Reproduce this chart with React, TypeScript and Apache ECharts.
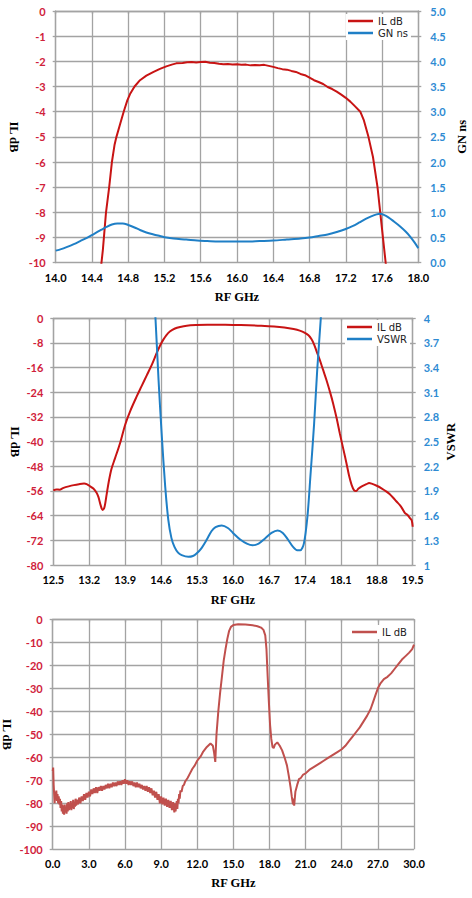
import React, { useEffect, useRef } from "react";
import * as echarts from "echarts";

// ---------- Chart 1: IL dB + group delay ----------
const il1: [number, number][] = [
  [14.49, -10.5], [14.52, -9.5], [14.555, -8], [14.59, -7], [14.62, -6], [14.65, -5.3], [14.67, -5],
  [14.71, -4.5], [14.75, -4], [14.79, -3.55], [14.82, -3.3], [14.87, -3.0], [14.93, -2.75], [15.0, -2.57],
  [15.08, -2.42], [15.15, -2.3], [15.22, -2.2], [15.28, -2.13], [15.33, -2.08], [15.4, -2.07], [15.45, -2.04],
  [15.5, -2.03], [15.55, -2.05], [15.6, -2.03], [15.65, -2.02], [15.7, -2.06], [15.75, -2.07], [15.8, -2.1],
  [15.85, -2.12], [15.9, -2.11], [15.95, -2.13], [16.0, -2.12], [16.05, -2.14], [16.1, -2.13], [16.15, -2.16],
  [16.2, -2.15], [16.25, -2.16], [16.3, -2.14], [16.35, -2.18], [16.4, -2.22], [16.45, -2.27], [16.5, -2.31],
  [16.55, -2.33], [16.6, -2.38], [16.65, -2.42], [16.7, -2.5], [16.75, -2.55], [16.8, -2.65], [16.85, -2.75],
  [16.9, -2.82], [16.95, -2.9], [17.0, -3.02], [17.05, -3.1], [17.1, -3.2], [17.15, -3.32], [17.2, -3.45],
  [17.25, -3.6], [17.3, -3.78], [17.36, -4.0], [17.4, -4.35], [17.45, -5.0], [17.5, -5.8], [17.55, -7.0],
  [17.58, -8.0], [17.61, -9.0], [17.64, -10.0], [17.66, -10.6],
];
const gn1: [number, number][] = [
  [14.0, 0.24], [14.06, 0.27], [14.12, 0.31], [14.2, 0.37], [14.27, 0.43], [14.35, 0.5], [14.42, 0.57],
  [14.5, 0.65], [14.56, 0.71], [14.62, 0.76], [14.68, 0.78], [14.74, 0.78], [14.8, 0.75], [14.87, 0.7],
  [14.93, 0.65], [15.0, 0.6], [15.08, 0.56], [15.15, 0.53], [15.22, 0.5], [15.3, 0.48], [15.44, 0.46],
  [15.56, 0.44], [15.67, 0.43], [15.8, 0.42], [15.96, 0.42], [16.1, 0.42], [16.25, 0.43], [16.4, 0.44],
  [16.55, 0.46], [16.7, 0.48], [16.8, 0.5], [16.9, 0.53], [17.0, 0.56], [17.1, 0.61], [17.2, 0.67],
  [17.28, 0.73], [17.35, 0.8], [17.42, 0.87], [17.48, 0.92], [17.54, 0.96], [17.58, 0.97], [17.62, 0.95],
  [17.67, 0.9], [17.73, 0.82], [17.8, 0.72], [17.86, 0.62], [17.91, 0.52], [17.96, 0.4], [18.0, 0.29],
];

// ---------- Chart 2: IL dB + VSWR ----------
const il2: [number, number][] = [
  [12.5, -55.8], [12.56, -55.5], [12.62, -55.6], [12.7, -55], [12.8, -54.5], [12.9, -54.1], [13.0, -53.8],
  [13.1, -53.6], [13.15, -53.8], [13.22, -54.5], [13.28, -55.2], [13.34, -56.5], [13.38, -58], [13.42, -60.5],
  [13.46, -62.2], [13.5, -61], [13.54, -57], [13.58, -53], [13.63, -49], [13.7, -45.5], [13.8, -40.5],
  [13.9, -34.5], [14.0, -30], [14.12, -25.5], [14.22, -22], [14.32, -18.5], [14.42, -15], [14.51, -11.4],
  [14.58, -8.8], [14.64, -7], [14.7, -5.5], [14.77, -4.3], [14.87, -3.3], [14.97, -2.8], [15.1, -2.4],
  [15.29, -2.2], [15.5, -2.1], [15.7, -2.1], [16.0, -2.15], [16.3, -2.25], [16.55, -2.4], [16.8, -2.65],
  [17.0, -3.0], [17.18, -3.5], [17.3, -4.0], [17.4, -4.7], [17.47, -5.5], [17.53, -6.8], [17.58, -8.5],
  [17.63, -10.8], [17.69, -13.5], [17.75, -16.5], [17.82, -20], [17.9, -24.5], [17.95, -27.6], [18.02, -32.5],
  [18.08, -37.3], [18.15, -42.5], [18.21, -47], [18.26, -51], [18.31, -54], [18.36, -55.8], [18.4, -56],
  [18.44, -55.3], [18.5, -54.6], [18.6, -53.8], [18.65, -53.4], [18.7, -53.6], [18.8, -54.3], [18.9, -55.2],
  [18.99, -56.2], [19.05, -57], [19.12, -58.2], [19.19, -59.5], [19.25, -60.6], [19.3, -61.8], [19.35, -63.2],
  [19.4, -63.8], [19.45, -64.9], [19.48, -65.5], [19.5, -67.6],
];
const vswr2: [number, number][] = [
  [14.44, 4.5], [14.49, 4.0], [14.55, 3.25], [14.61, 2.6], [14.68, 1.95], [14.74, 1.55], [14.8, 1.33],
  [14.86, 1.22], [14.93, 1.15], [15.0, 1.12], [15.13, 1.1], [15.22, 1.11], [15.29, 1.14], [15.38, 1.2],
  [15.49, 1.31], [15.58, 1.41], [15.66, 1.46], [15.78, 1.48], [15.9, 1.45], [16.0, 1.39], [16.14, 1.31],
  [16.27, 1.26], [16.38, 1.24], [16.5, 1.26], [16.62, 1.32], [16.75, 1.39], [16.87, 1.42], [16.97, 1.39],
  [17.07, 1.31], [17.17, 1.22], [17.25, 1.18], [17.31, 1.18], [17.38, 1.26], [17.45, 1.59], [17.51, 2.1],
  [17.58, 2.72], [17.64, 3.37], [17.71, 4.0], [17.76, 4.5],
];

// ---------- Chart 3: wideband IL dB ----------
const il3: [number, number][] = [
  [0.0, -66], [0.04, -64.5], [0.08, -72], [0.12, -76], [0.16, -80], [0.2, -75], [0.25, -78], [0.3, -74.5],
  [0.35, -79], [0.4, -76], [0.45, -80], [0.5, -77], [0.55, -80.5], [0.6, -78], [0.65, -82], [0.7, -79],
  [0.75, -83.5], [0.8, -80.5], [0.85, -84.5], [0.9, -81], [0.95, -85], [1.0, -80.5], [1.05, -84], [1.1, -81.5],
  [1.15, -84.5], [1.2, -80], [1.25, -83.5], [1.3, -79.5], [1.35, -83], [1.4, -80.5], [1.45, -82.5], [1.5, -79],
  [1.55, -83], [1.6, -80], [1.65, -82], [1.7, -78.5], [1.75, -82.5], [1.8, -79.5], [1.85, -81.5], [1.9, -78],
  [1.95, -81], [2.0, -78.5], [2.1, -80.5], [2.2, -77.5], [2.3, -80], [2.4, -77], [2.5, -79], [2.6, -76],
  [2.7, -78.5], [2.8, -75.5], [2.9, -77.5], [3.0, -75], [3.1, -77], [3.2, -74], [3.3, -76], [3.4, -73.5],
  [3.5, -75.5], [3.6, -73], [3.7, -75.5], [3.8, -73], [3.9, -74.5], [4.0, -72.5], [4.1, -74.5], [4.2, -72.5],
  [4.3, -74], [4.4, -72], [4.5, -73.5], [4.6, -71.5], [4.7, -73.5], [4.8, -71.5], [4.9, -73], [5.0, -71],
  [5.1, -72.5], [5.2, -71], [5.3, -72.5], [5.4, -70.5], [5.5, -72], [5.6, -70.5], [5.7, -72], [5.8, -70],
  [5.9, -71.5], [6.0, -69.5], [6.1, -71.5], [6.2, -70], [6.3, -72], [6.4, -70.5], [6.5, -72], [6.6, -70.5],
  [6.7, -72.5], [6.8, -71], [6.9, -73], [7.0, -71], [7.1, -73], [7.2, -71.5], [7.3, -73.5], [7.4, -72],
  [7.5, -74], [7.6, -72.5], [7.7, -74.5], [7.8, -72.5], [7.9, -75], [8.0, -73], [8.1, -75.5], [8.2, -73.5],
  [8.3, -76.5], [8.4, -74.5], [8.5, -77.5], [8.6, -75], [8.7, -78.5], [8.8, -76], [8.9, -80], [9.0, -77],
  [9.1, -80.5], [9.2, -77.5], [9.3, -81], [9.4, -78], [9.5, -81.5], [9.6, -78.5], [9.7, -82], [9.8, -79],
  [9.9, -83], [10.0, -79.5], [10.1, -84], [10.15, -80], [10.2, -83.5], [10.3, -79], [10.35, -82.5], [10.4, -78],
  [10.45, -80], [10.5, -76], [10.55, -78], [10.6, -74.5], [10.7, -75], [10.8, -72.5], [10.9, -72], [11.0, -70.5],
  [11.2, -69], [11.4, -67], [11.6, -65], [11.8, -63.5], [12.0, -61.5], [12.3, -59.5],
  [12.5, -57.5], [12.8, -55.5], [13.1, -54], [13.3, -55], [13.4, -58], [13.5, -62], [13.6, -50], [13.75, -40],
  [13.9, -32], [14.05, -25], [14.2, -18], [14.35, -13], [14.5, -8.5], [14.65, -5], [14.8, -3.3], [15.0, -2.5],
  [15.4, -2.2], [16.0, -2.3], [16.6, -2.6], [17.0, -3], [17.3, -3.6], [17.5, -4.6], [17.65, -7], [17.75, -13],
  [17.85, -25], [17.95, -36], [18.05, -46], [18.15, -52], [18.25, -55.5], [18.35, -56], [18.45, -54.5],
  [18.65, -53.5], [18.85, -55], [19.05, -57], [19.25, -60], [19.45, -63.5], [19.6, -68], [19.75, -73],
  [19.85, -77], [19.95, -80.5], [20.0, -78], [20.05, -81], [20.15, -75], [20.3, -72], [20.45, -69.5],
  [20.6, -69], [20.8, -67.5], [21.0, -67], [21.3, -65.5], [21.6, -64.5], [21.9, -63.5], [22.2, -62.5],
  [22.5, -61.5], [22.8, -60.5], [23.1, -59.5], [23.4, -58.5], [23.7, -57.5], [24.0, -56.5], [24.3, -55],
  [24.6, -53], [24.9, -51], [25.2, -49], [25.5, -47], [25.8, -44.5], [26.1, -42], [26.4, -39], [26.6, -36],
  [26.8, -33], [27.0, -30], [27.2, -28], [27.5, -26], [27.8, -25], [28.1, -23.5], [28.4, -21.5], [28.7, -19.5],
  [29.0, -17.5], [29.3, -16], [29.6, -14.5], [29.85, -13], [30.0, -11],
];

const GRID = "#a3a3a3";
const RED_LABEL = "#d0213a";
const BLUE_LABEL = "#2e8bd3";
const RED_LINE = "#c81414";
const BLUE_LINE = "#1f7fc6";
const RED3 = "#c0504d";
const TICK_FONT = "Lato";
const NAME_FONT = "Liberation Serif";

const nameStyle = { fontFamily: NAME_FONT, fontWeight: "bold", fontSize: 12.5, color: "#000" };

function xAxis(min: number, max: number, interval: number, gap: number) {
  return {
    type: "value",
    min, max, interval,
    name: "RF GHz",
    nameLocation: "middle",
    nameGap: gap,
    nameMoveOverlap: false,
    nameTextStyle: nameStyle,
    axisLine: { show: true, lineStyle: { color: GRID, width: 1.3 } },
    axisTick: { show: true, length: 3, lineStyle: { color: GRID, width: 1.3 } },
    splitLine: { show: true, lineStyle: { color: GRID, width: 1.3 } },
    axisLabel: {
      color: "#000", fontWeight: "bold", fontFamily: TICK_FONT, fontSize: 11, margin: 9,
      hideOverlap: false,
      formatter: (v: number) => v.toFixed(1),
    },
  };
}

function yAxis(opts: any) {
  const { min, max, interval, name, gap, right, color, fmt, margin } = opts;
  return {
    type: "value",
    position: right ? "right" : "left",
    min, max, interval,
    name,
    nameLocation: "middle",
    nameRotate: right ? 90 : -90,
    nameGap: gap,
    nameMoveOverlap: false,
    nameTextStyle: nameStyle,
    axisLine: { show: true, lineStyle: { color: GRID, width: 1.3 } },
    axisTick: { show: true, length: 3, lineStyle: { color: GRID, width: 1.3 } },
    splitLine: { show: !right, lineStyle: { color: GRID, width: 1.3 } },
    axisLabel: {
      color, fontWeight: "bold", fontFamily: TICK_FONT, fontSize: 11, margin,
      formatter: fmt,
    },
  };
}

function legend(left: number, top: number) {
  return {
    orient: "vertical",
    left, top,
    backgroundColor: "#ffffff",
    padding: [2, 3, 2, 2],
    itemGap: 2,
    itemWidth: 25,
    itemHeight: 2.5,
    icon: "rect",
    textStyle: { fontFamily: "DejaVu Sans", fontSize: 10, color: "#222" },
  };
}

const intFmt = (v: number) => String(Math.round(v));
const oneFmt = (v: number) => v.toFixed(1);
const vswrFmt = (v: number) => String(Number(v.toFixed(1)));

const option1 = {
  animation: false,
  grid: { left: 55.7, top: 11, width: 362.6, height: 251.7, outerBoundsMode: "none", containLabel: false },
  legend: legend(346, 14),
  xAxis: xAxis(14, 18, 0.4, 28),
  yAxis: [
    yAxis({ min: -10, max: 0, interval: 1, name: "IL dB", gap: 35, right: false, color: RED_LABEL, fmt: intFmt, margin: 10 }),
    yAxis({ min: 0, max: 5, interval: 0.5, name: "GN ns", gap: 37, right: true, color: BLUE_LABEL, fmt: oneFmt, margin: 12 }),
  ],
  series: [
    { name: "IL dB", type: "line", data: il1, showSymbol: false, symbol: "none", clip: true,
      lineStyle: { color: RED_LINE, width: 2 }, itemStyle: { color: RED_LINE }, yAxisIndex: 0 },
    { name: "GN ns", type: "line", data: gn1, showSymbol: false, symbol: "none", smooth: 0.3, clip: true,
      lineStyle: { color: BLUE_LINE, width: 2 }, itemStyle: { color: BLUE_LINE }, yAxisIndex: 1 },
  ],
};

const option2 = {
  animation: false,
  grid: { left: 53.3, top: 18.3, width: 359.4, height: 246.7, outerBoundsMode: "none", containLabel: false },
  legend: legend(345, 20),
  xAxis: xAxis(12.5, 19.5, 0.7, 28),
  yAxis: [
    yAxis({ min: -80, max: 0, interval: 8, name: "IL dB", gap: 32, right: false, color: RED_LABEL, fmt: intFmt, margin: 10 }),
    yAxis({ min: 1, max: 4, interval: 0.3, name: "VSWR", gap: 32, right: true, color: BLUE_LABEL, fmt: vswrFmt, margin: 11 }),
  ],
  series: [
    { name: "IL dB", type: "line", data: il2, showSymbol: false, symbol: "none", smooth: 0.3, clip: true,
      lineStyle: { color: RED_LINE, width: 2 }, itemStyle: { color: RED_LINE }, yAxisIndex: 0 },
    { name: "VSWR", type: "line", data: vswr2, showSymbol: false, symbol: "none", smooth: 0.3, clip: true,
      lineStyle: { color: BLUE_LINE, width: 2 }, itemStyle: { color: BLUE_LINE }, yAxisIndex: 1 },
  ],
};

const option3 = {
  animation: false,
  grid: { left: 52.7, top: 14.3, width: 361.3, height: 230, outerBoundsMode: "none", containLabel: false },
  legend: legend(350, 20),
  xAxis: xAxis(0, 30, 3, 27),
  yAxis: [
    yAxis({ min: -100, max: 0, interval: 10, name: "IL dB", gap: 39, right: false, color: RED_LABEL, fmt: intFmt, margin: 10 }),
  ],
  series: [
    { name: "IL dB", type: "line", data: il3, showSymbol: false, symbol: "none", clip: true,
      lineStyle: { color: RED3, width: 2 }, itemStyle: { color: RED3 } },
  ],
};

function Chart({ option, top, height }: { option: any; top: number; height: number }) {
  const ref = useRef<HTMLDivElement>(null);
  useEffect(() => {
    if (!ref.current) return;
    const chart = echarts.init(ref.current, undefined, { renderer: "svg" });
    chart.setOption(option);
    return () => chart.dispose();
  }, [option]);
  return (
    <div ref={ref} style={{ position: "absolute", left: 0, top, width: 472, height }} />
  );
}

export default function App() {
  return (
    <div style={{ position: "absolute", left: 0, top: 0, width: 472, height: 898, background: "#fff" }}>
      <Chart option={option1} top={0} height={308} />
      <Chart option={option2} top={300} height={312} />
      <Chart option={option3} top={605} height={293} />
    </div>
  );
}
